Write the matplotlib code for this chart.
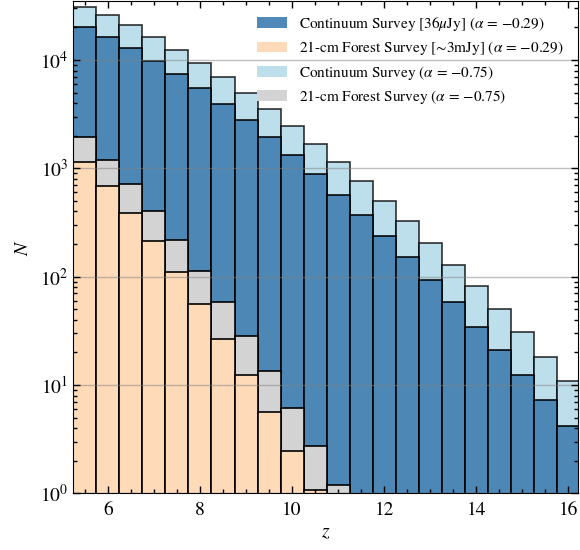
import numpy as np
import matplotlib
matplotlib.use("Agg")
import matplotlib.pyplot as plt
from matplotlib.ticker import MultipleLocator, LogLocator, NullFormatter

plt.rcParams['font.family'] = 'serif'
plt.rcParams['font.serif'] = ['STIXGeneral', 'Liberation Serif', 'DejaVu Serif']
plt.rcParams['mathtext.fontset'] = 'stix'

# redshift bin centres (bin width 0.5)
z = np.arange(5.5, 16.01, 0.5)
cont_29 = np.array([20100, 16340, 12850, 9880, 7490, 5490, 3930, 2800, 1950, 1320,
                    883, 572, 374, 239, 151, 94, 58, 34.5, 20.9, 12.3, 7.2, 4.2])
cont_75 = np.array([31100, 25900, 20950, 16250, 12480, 9460, 6940, 5000, 3560, 2465,
                    1680, 1138, 760, 500, 327, 206, 128, 82, 50, 30.7, 18.3, 11.0])
forest_75 = np.array([1960, 1200, 718, 402, 220, 114, 58, 28.3, 13.4, 6.17,
                      2.75, 1.19, 0, 0, 0, 0, 0, 0, 0, 0, 0, 0])
forest_29 = np.array([1150, 688, 390, 212, 110, 56, 26.8, 12.5, 5.67, 2.47,
                      1.07, 0, 0, 0, 0, 0, 0, 0, 0, 0, 0, 0])

labels = [r"Continuum Survey [36$\mu$Jy] ($\alpha\,=\,$−0.29)",
          r"21-cm Forest Survey [∼3mJy] ($\alpha\,=\,$−0.29)",
          r"Continuum Survey ($\alpha\,=\,$−0.75)",
          r"21-cm Forest Survey ($\alpha\,=\,$−0.75)"]

fig = plt.figure(figsize=(5.8, 5.5), dpi=100)
ax = fig.add_axes([0.1264, 0.103, 0.8696, 0.895])
ax.set_yscale('log')

w = 0.5
m = cont_75 > 0
b3 = ax.bar(z[m], cont_75[m], width=w, color='lightblue', alpha=0.8,
            edgecolor='black', linewidth=1.2, zorder=0.6)
m = cont_29 > 0
b1 = ax.bar(z[m], cont_29[m], width=w, color='steelblue', alpha=0.95,
            edgecolor='black', linewidth=1.2, zorder=0.7)
m = forest_75 > 0
b4 = ax.bar(z[m], forest_75[m], width=w, color='lightgray',
            edgecolor='black', linewidth=1.2, zorder=0.8)
m = forest_29 > 0
b2 = ax.bar(z[m], forest_29[m], width=w, color='peachpuff',
            edgecolor='black', linewidth=1.2, zorder=0.9)

ax.set_xlim(5.25, 16.2)
ax.set_ylim(1, 3.5e4)
ax.yaxis.grid(True, which='major', color='gray', alpha=0.5, linewidth=1)

ax.xaxis.set_major_locator(MultipleLocator(2))
ax.xaxis.set_minor_locator(MultipleLocator(0.5))
ax.yaxis.set_minor_locator(LogLocator(base=10, subs=np.arange(2, 10)))
ax.yaxis.set_minor_formatter(NullFormatter())
ax.tick_params(which='both', direction='in', top=True, right=True, labelsize=14)
ax.tick_params(which='major', length=5, width=1)
ax.tick_params(which='minor', length=3, width=1)
ax.tick_params(axis='x', pad=6)

ax.set_xlabel(r"$z$", fontsize=14)
ax.set_ylabel(r"$N$", fontsize=14, labelpad=6)

h = [b1, b2, b3, b4]
leg = ax.legend(h, labels, loc='upper right', frameon=False, fontsize=11,
                labelspacing=0.42)
for p in leg.get_patches():
    p.set_edgecolor('none')

fig.savefig("out.png", dpi=100)
